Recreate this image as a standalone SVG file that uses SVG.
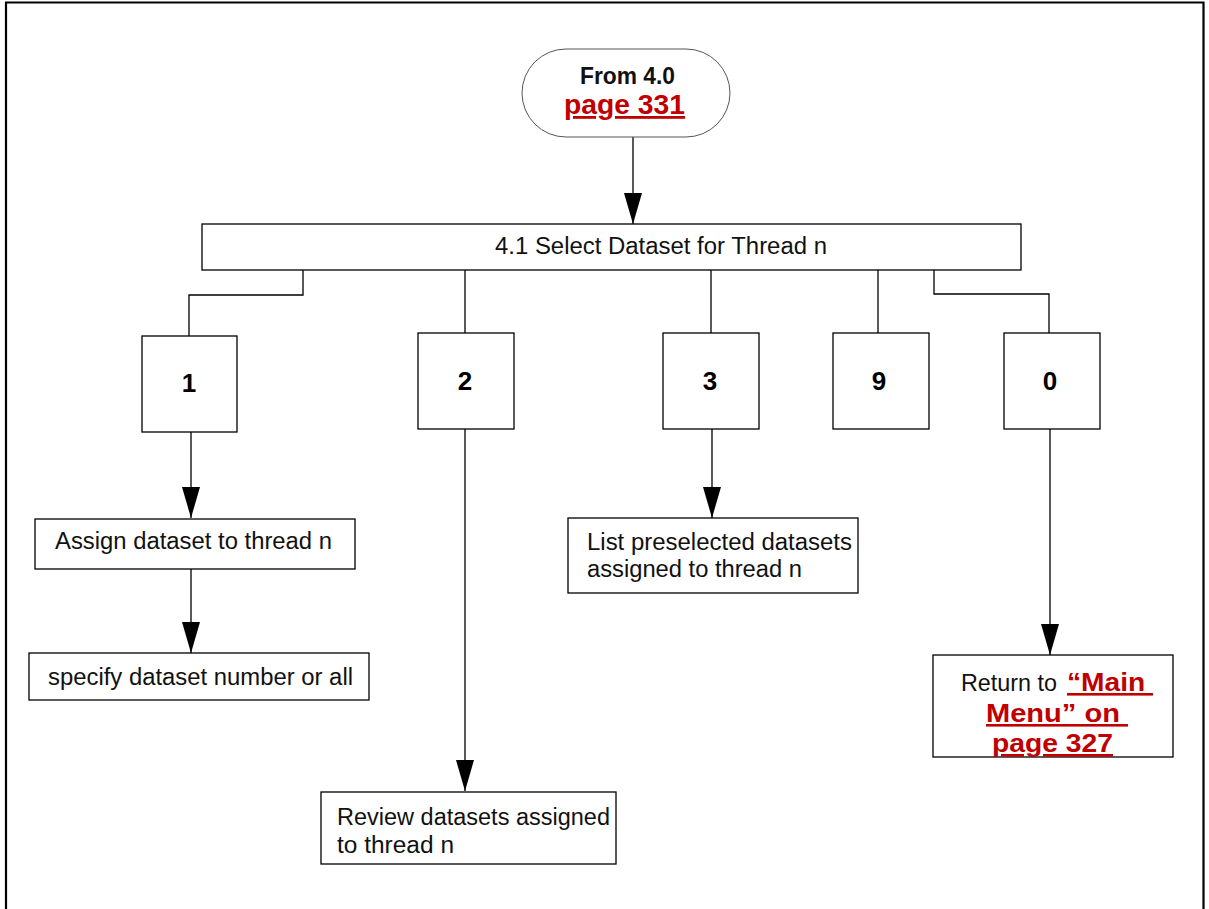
<svg xmlns="http://www.w3.org/2000/svg" width="1209" height="909" viewBox="0 0 1209 909">
  <style>
    .box { fill: #fff; stroke: #000; stroke-width: 1.3; }
    .wire { fill: none; stroke: #000; stroke-width: 1.3; }
    .t { font-family: "Liberation Sans", Arial, sans-serif; font-size: 23px; fill: #111; }
    .num { font-family: "Liberation Sans", Arial, sans-serif; font-size: 26px; font-weight: bold; fill: #000; text-anchor: middle; }
    .link { font-family: "Liberation Sans", Arial, sans-serif; font-size: 28px; font-weight: bold; fill: #c00000; text-decoration: underline; }
    .link.small { font-size: 26px; }
  </style>
  <defs>
    <marker id="arrow" markerUnits="userSpaceOnUse" markerWidth="31" markerHeight="18" refX="31" refY="9" orient="auto" viewBox="0 0 31 18">
      <path d="M0,0 L31,9 L0,18 Z" fill="#000"/>
    </marker>
  </defs>

  <!-- page frame (open at the bottom) -->
  <path d="M6,909 V2.5 H1203.5 V909" fill="none" stroke="#000" stroke-width="2.2"/>

  <g id="connectors">
    <path class="wire" d="M633,137 V224" marker-end="url(#arrow)"/>
    <path class="wire" d="M303,270 V295 H189 V336"/>
    <path class="wire" d="M465,270 V333"/>
    <path class="wire" d="M711,270 V333"/>
    <path class="wire" d="M878,270 V333"/>
    <path class="wire" d="M934,270 V294 H1049 V333"/>
    <path class="wire" d="M191,432 V518" marker-end="url(#arrow)"/>
    <path class="wire" d="M191,569 V653" marker-end="url(#arrow)"/>
    <path class="wire" d="M712,429 V518" marker-end="url(#arrow)"/>
    <path class="wire" d="M465,429 V791" marker-end="url(#arrow)"/>
    <path class="wire" d="M1050,429 V655" marker-end="url(#arrow)"/>
  </g>

  <g id="start">
    <rect x="522" y="49" width="208" height="88" rx="44" ry="44" fill="#fff" stroke="#555" stroke-width="1"/>
    <text class="t" x="580" y="84" font-weight="bold" fill="#000" textLength="95" lengthAdjust="spacingAndGlyphs">From 4.0</text>
    <text class="link" x="564" y="114" textLength="121" lengthAdjust="spacingAndGlyphs">page 331</text>
  </g>

  <g id="menu">
    <rect class="box" x="202" y="224" width="819" height="46"/>
    <text class="t" x="495" y="254" textLength="332" lengthAdjust="spacingAndGlyphs">4.1 Select Dataset for Thread n</text>
  </g>

  <g id="opt1">
    <rect class="box" x="142" y="336" width="95" height="96"/>
    <text class="num" x="189" y="392">1</text>
  </g>
  <g id="opt2">
    <rect class="box" x="418" y="333" width="96" height="96"/>
    <text class="num" x="465" y="390">2</text>
  </g>
  <g id="opt3">
    <rect class="box" x="663" y="333" width="96" height="96"/>
    <text class="num" x="710" y="390">3</text>
  </g>
  <g id="opt9">
    <rect class="box" x="833" y="333" width="96" height="96"/>
    <text class="num" x="879" y="390">9</text>
  </g>
  <g id="opt0">
    <rect class="box" x="1004" y="333" width="96" height="96"/>
    <text class="num" x="1050" y="390">0</text>
  </g>

  <g id="assign">
    <rect class="box" x="35" y="519" width="320" height="50"/>
    <text class="t" x="55" y="549" textLength="277" lengthAdjust="spacingAndGlyphs">Assign dataset to thread n</text>
  </g>
  <g id="specify">
    <rect class="box" x="29" y="653" width="340" height="47"/>
    <text class="t" x="48" y="685" textLength="305" lengthAdjust="spacingAndGlyphs">specify dataset number or all</text>
  </g>
  <g id="list">
    <rect class="box" x="568" y="518" width="290" height="75"/>
    <text class="t" x="587" y="550" textLength="265" lengthAdjust="spacingAndGlyphs">List preselected datasets</text>
    <text class="t" x="587" y="577" textLength="215" lengthAdjust="spacingAndGlyphs">assigned to thread n</text>
  </g>
  <g id="review">
    <rect class="box" x="321" y="792" width="295" height="72"/>
    <text class="t" x="337" y="825" textLength="273" lengthAdjust="spacingAndGlyphs">Review datasets assigned</text>
    <text class="t" x="337" y="853" textLength="117" lengthAdjust="spacingAndGlyphs">to thread n</text>
  </g>
  <g id="return">
    <rect class="box" x="933" y="655" width="240" height="102"/>
    <text class="t" x="961" y="691" textLength="96" lengthAdjust="spacingAndGlyphs">Return to</text>
    <text class="link small" x="1067" y="691" textLength="86" lengthAdjust="spacingAndGlyphs">“Main&#160;</text>
    <text class="link small" x="986" y="722" textLength="142" lengthAdjust="spacingAndGlyphs">Menu” on&#160;</text>
    <text class="link small" x="992" y="752" textLength="121" lengthAdjust="spacingAndGlyphs">page 327</text>
  </g>
</svg>
